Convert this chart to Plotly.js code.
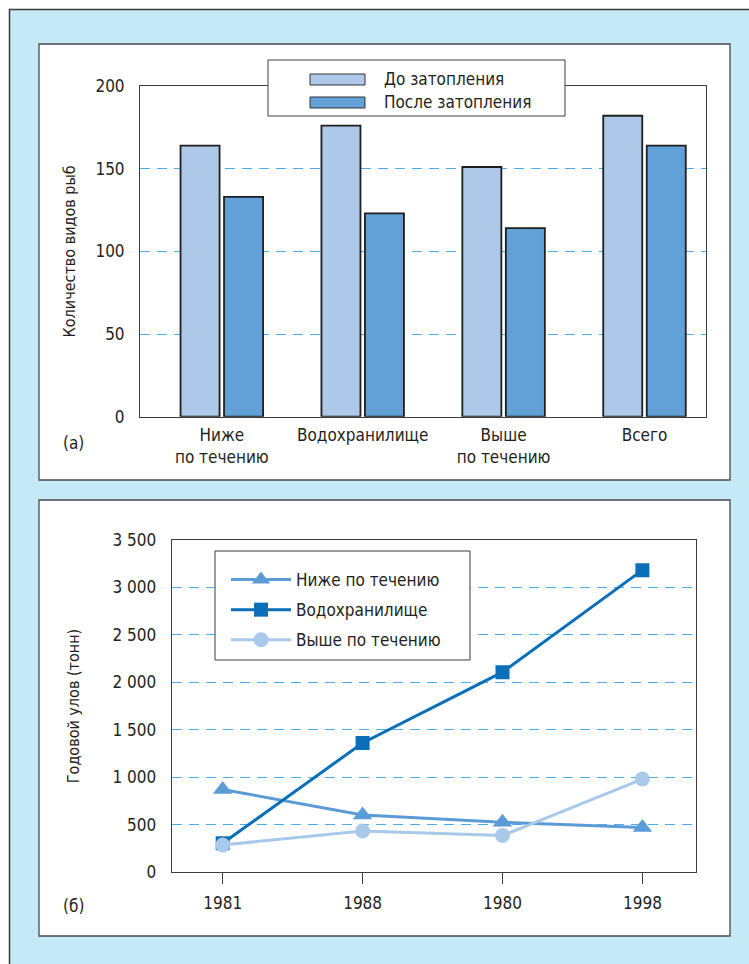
<!DOCTYPE html>
<html><head><meta charset="utf-8">
<script src="https://cdn.plot.ly/plotly-3.0.1.min.js"></script>
<style>html,body{margin:0;padding:0;background:#fff}</style>
</head><body><div id="chart" style="width:749px;height:964px"></div>
<script>
// ---- Panel (а): number of fish species ----
const barCategories = ['Ниже<br>по течению', 'Водохранилище', 'Выше<br>по течению', 'Всего'];
const beforeFlood = [164, 176, 151, 182];
const afterFlood = [133, 123, 114, 164];
const barSeriesNames = ['До затопления', 'После затопления'];
const barYTicks = [0, 50, 100, 150, 200];

// ---- Panel (б): annual catch ----
const years = ['1981', '1988', '1980', '1998'];
const downstream = [870, 600, 525, 470];
const reservoir = [303, 1360, 2107, 3182];
const upstream = [285, 433, 384, 980];
const lineSeriesNames = ['Ниже по течению', 'Водохранилище', 'Выше по течению'];
const catchTickVals = [0, 500, 1000, 1500, 2000, 2500, 3000, 3500];
const catchTickText = ['0', '500', '1 000', '1 500', '2 000', '2 500', '3 000', '3 500'];

const W = 749, H = 964;
const px = x => x / W, py = y => 1 - y / H;
const FONT = '"DejaVu Sans Condensed","Liberation Sans Narrow",sans-serif';
const TXT = '#231f20';
const GRID = '#4aaee6';
const AX = '#3c3c3c';
const barColors = ['#adc8e9', '#62a1d7'];

const traces = [
  {type: 'bar', x: barCategories, y: beforeFlood, name: barSeriesNames[0], xaxis: 'x', yaxis: 'y', showlegend: false,
   marker: {color: barColors[0], line: {color: '#1e1e1e', width: 1.8}}, hoverinfo: 'skip'},
  {type: 'bar', x: barCategories, y: afterFlood, name: barSeriesNames[1], xaxis: 'x', yaxis: 'y', showlegend: false,
   marker: {color: barColors[1], line: {color: '#1e1e1e', width: 1.8}}, hoverinfo: 'skip'},
  {type: 'scatter', mode: 'lines+markers', x: years, y: downstream, name: lineSeriesNames[0], xaxis: 'x2', yaxis: 'y2',
   legend: 'legend2', legendgroup: 'a', line: {color: '#5b9bd6', width: 3}, marker: {symbol: 'triangle-up', size: 17, color: '#5b9bd6'}},
  {type: 'scatter', mode: 'lines+markers', x: years, y: reservoir, name: lineSeriesNames[1], xaxis: 'x2', yaxis: 'y2',
   legend: 'legend2', legendgroup: 'b', line: {color: '#0a6eb8', width: 3}, marker: {symbol: 'square', size: 14, color: '#0a6eb8'}},
  {type: 'scatter', mode: 'lines+markers', x: years, y: upstream, name: lineSeriesNames[2], xaxis: 'x2', yaxis: 'y2',
   legend: 'legend2', legendgroup: 'c', line: {color: '#a9c9eb', width: 3}, marker: {symbol: 'circle', size: 15, color: '#a9c9eb'}}
];

const x2range = [(171.7 - 222.7) / 139.9, (696 - 222.7) / 139.9];

const rectPx = (x0, y0, x1, y1, fill, lineColor, lw, layer) => ({type: 'rect', xref: 'paper', yref: 'paper',
  x0: px(x0), x1: px(x1), y0: py(y0), y1: py(y1), fillcolor: fill, line: {color: lineColor, width: lw}, layer: layer});

const layout = {
  width: W, height: H, margin: {l: 0, r: 0, t: 0, b: 0},
  paper_bgcolor: '#ffffff', plot_bgcolor: 'rgba(0,0,0,0)',
  font: {family: FONT, size: 17, color: TXT},
  barmode: 'group', bargap: 0.3825, bargroupgap: 0.103,
  showlegend: true,
  xaxis: {domain: [px(140), px(706)], anchor: 'y', type: 'category', range: [-0.5806, 3.4365],
    showline: true, mirror: true, linecolor: AX, linewidth: 1, ticks: '', showgrid: false, zeroline: false,
    ticklabelstandoff: 3, fixedrange: true},
  yaxis: {domain: [py(416.7), py(86)], anchor: 'x', range: [0, 200], tickmode: 'array', tickvals: barYTicks,
    showline: true, mirror: true, linecolor: AX, linewidth: 1, showgrid: true, gridcolor: GRID, griddash: '10px,7px',
    gridwidth: 1, zeroline: false, ticks: '', ticklabelstandoff: 11, fixedrange: true,
    title: {text: 'Количество видов рыб', standoff: 15, font: {size: 16}}},
  xaxis2: {domain: [px(171.7), px(696)], anchor: 'y2', type: 'category', categoryarray: years, range: x2range,
    showline: true, mirror: true, linecolor: AX, linewidth: 1, ticks: 'outside', ticklen: 11, tickcolor: AX,
    showgrid: false, zeroline: false, ticklabelstandoff: 5, fixedrange: true},
  xaxis3: {overlaying: 'x2', anchor: 'y2', type: 'linear', range: x2range, tickmode: 'array',
    tickvals: years.map((_, i) => i), ticks: 'inside', ticklen: 11, tickcolor: AX, showticklabels: false,
    showline: false, showgrid: false, zeroline: false, fixedrange: true},
  yaxis2: {domain: [py(872), py(540)], anchor: 'x2', range: [0, 3500], tickmode: 'array', tickvals: catchTickVals,
    ticktext: catchTickText, showline: true, mirror: true, linecolor: AX, linewidth: 1, showgrid: true, gridcolor: GRID,
    griddash: '10px,7px', gridwidth: 1, zeroline: false, ticks: '', ticklabelstandoff: 11, fixedrange: true,
    title: {text: 'Годовой улов (тонн)', standoff: 28, font: {size: 16}}},
  legend2: {x: px(226), y: py(562), xanchor: 'left', yanchor: 'top', bgcolor: 'rgba(0,0,0,0)', borderwidth: 0,
    font: {size: 17}, itemwidth: 60, tracegroupgap: 5},
  shapes: [
    rectPx(9.5, 9.5, 780, 1000, '#c6e9f8', '#3a3a3a', 1.5, 'below'),
    rectPx(39, 44, 730, 480, '#ffffff', '#4a4a4a', 1.3, 'below'),
    rectPx(39, 500, 730, 936, '#ffffff', '#4a4a4a', 1.3, 'below'),
    // legend boxes
    rectPx(268, 60, 565, 116, '#ffffff', AX, 1, 'above'),
    rectPx(310, 74, 365, 85, barColors[0], '#333333', 1, 'above'),
    rectPx(310, 97, 365, 108, barColors[1], '#333333', 1, 'above'),
    rectPx(215, 551, 470, 660, '#ffffff', AX, 1, 'above')
  ],
  annotations: [
    {text: barSeriesNames[0], xref: 'paper', yref: 'paper', x: px(382), y: py(79), showarrow: false, xanchor: 'left', yanchor: 'middle'},
    {text: barSeriesNames[1], xref: 'paper', yref: 'paper', x: px(382), y: py(102), showarrow: false, xanchor: 'left', yanchor: 'middle'},
    {text: '(а)', xref: 'paper', yref: 'paper', x: px(73), y: py(443), showarrow: false, xanchor: 'center', yanchor: 'middle'},
    {text: '(б)', xref: 'paper', yref: 'paper', x: px(73), y: py(906), showarrow: false, xanchor: 'center', yanchor: 'middle'}
  ]
};

Plotly.newPlot('chart', traces, layout, {staticPlot: true, displayModeBar: false});
</script>
</body></html>
